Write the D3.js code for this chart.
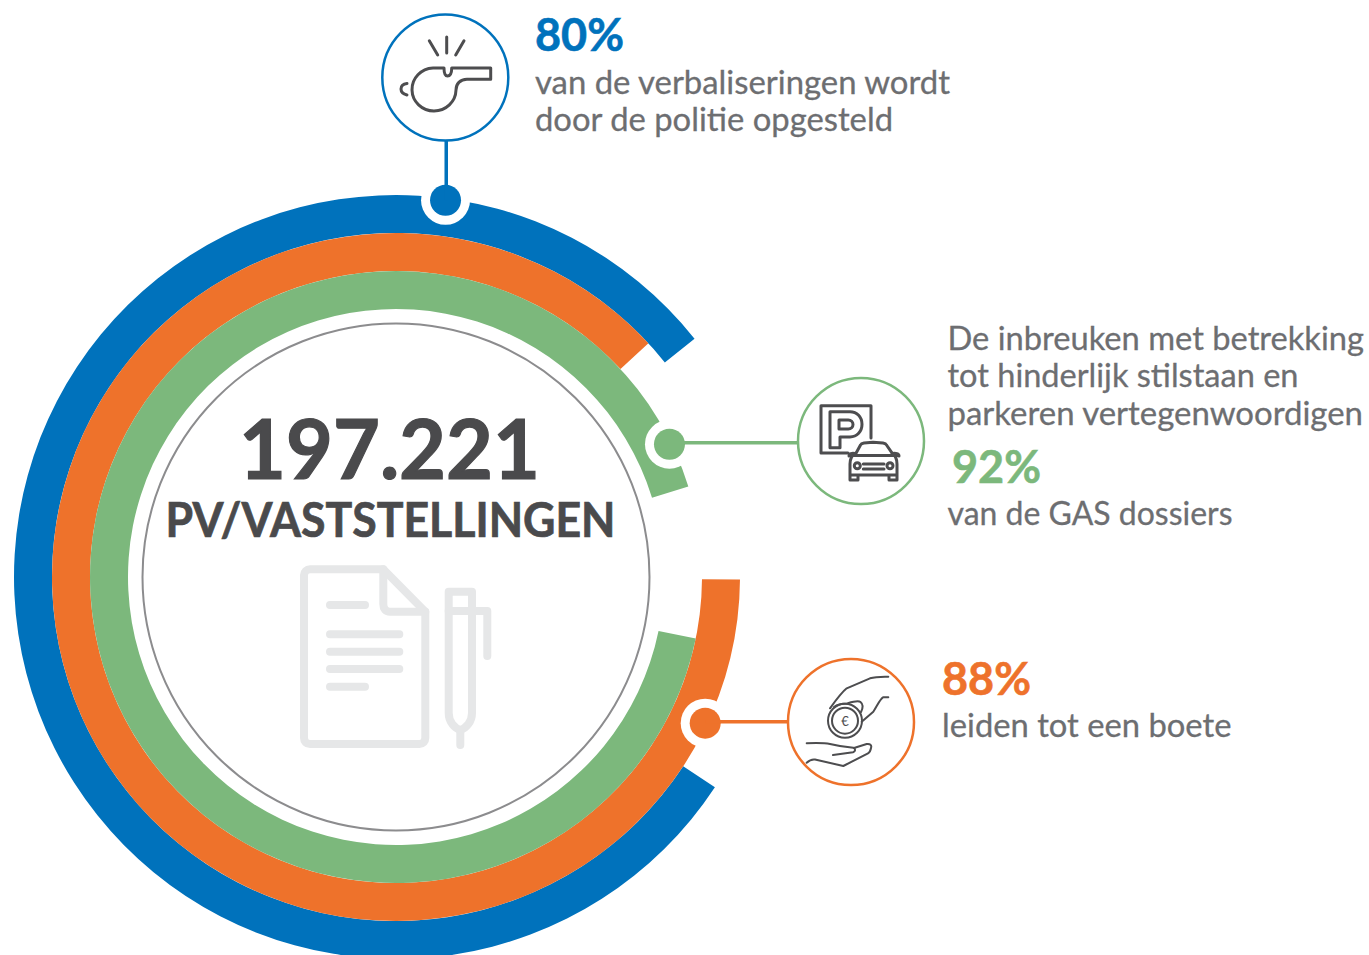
<!DOCTYPE html>
<html>
<head>
<meta charset="utf-8">
<style>
  html, body { margin: 0; background: #fff; overflow: hidden; }
  svg { display: block; font-family: Lato, "Open Sans", sans-serif; }
  .icon { fill: none; stroke: #4d4d4f; stroke-width: 3; stroke-linecap: round; stroke-linejoin: round; }
  .icon-thin { stroke-width: 2; }
  .doc { fill: none; stroke: #e6e7e8; stroke-width: 8; stroke-linecap: round; stroke-linejoin: round; }
</style>
</head>
<body>
<svg id="chart" width="1369" height="955"></svg>
<script src="https://d3js.org/d3.v7.min.js"></script>
<script>
// data
var ringNames = ["politie", "boete", "parkeren"];
var ringValues = [80, 88, 92];
var ringColors = ["#0072bc", "#ee722b", "#7cb87c"];
var totalLabel = "197.221";
var totalCaption = "PV/VASTSTELLINGEN";

// layout
var cx = 396, cy = 577;
var ringStart = { politie: 123.4, boete: 90.4, parkeren: 101.6 };   // degrees clockwise from 12 o'clock
var dotAngle = { politie: 7.49, boete: 115.3, parkeren: 64.1 };
var bubble = {
  politie: { x: 445.3, y: 77.5 },
  parkeren: { x: 861, y: 441 },
  boete: { x: 851, y: 722 }
};

var textColor = "#6d6e71", darkColor = "#4a4a4c";
var labels = [
  { t: "80%", x: 535, y: 51, w: 89, size: 45, bold: 0.6, fill: ringColors[0] },
  { t: "van de verbaliseringen wordt", x: 535, y: 94, w: 415, size: 33 },
  { t: "door de politie opgesteld", x: 535, y: 131, w: 358, size: 33 },
  { t: "De inbreuken met betrekking", x: 947.5, y: 350, w: 416.5, size: 33 },
  { t: "tot hinderlijk stilstaan en", x: 947.5, y: 387, w: 351, size: 33 },
  { t: "parkeren vertegenwoordigen", x: 947.5, y: 425, w: 415.5, size: 33 },
  { t: "92%", x: 952, y: 483, w: 89, size: 45, bold: 0.6, fill: ringColors[2] },
  { t: "van de GAS dossiers", x: 947.5, y: 525, w: 285, size: 33 },
  { t: "88%", x: 942, y: 695, w: 89, size: 45, bold: 0.6, fill: ringColors[1] },
  { t: "leiden tot een boete", x: 942, y: 737, w: 289.5, size: 33 },
  { t: totalLabel, x: 239, y: 479, w: 301, size: 82, bold: 1.2, fill: darkColor },
  { t: totalCaption, x: 165.5, y: 537, w: 450, size: 47, bold: 0.7, fill: darkColor }
];

var svg = d3.select("#chart");

var radius = d3.scaleBand().domain(ringNames).range([382, 268]);
var angle = d3.scaleLinear().domain([0, 100]).range([0, 2 * Math.PI]);
var color = d3.scaleOrdinal().domain(ringNames).range(ringColors);
var rad = function(deg) { return deg * Math.PI / 180; };

var rings = ringNames.map(function(name, i) {
  return { name: name, value: ringValues[i] };
});

var arc = d3.arc()
  .innerRadius(function(d) { return radius(d.name); })
  .outerRadius(function(d) { return radius(d.name) + radius.bandwidth(); })
  .startAngle(function(d) { return rad(ringStart[d.name]); })
  .endAngle(function(d) { return rad(ringStart[d.name]) + angle(d.value); });

var g = svg.append("g").attr("transform", "translate(" + cx + "," + cy + ")");

g.selectAll("path.ring")
  .data(rings)
  .enter().append("path")
    .attr("class", "ring")
    .attr("d", arc)
    .attr("fill", function(d) { return color(d.name); });

g.append("circle")
  .attr("r", 253.5)
  .attr("fill", "none")
  .attr("stroke", "#8c8c8e")
  .attr("stroke-width", 2);

// dots sit on the outer edge of their ring
function dotPos(d) {
  var r = radius(d.name) + radius.bandwidth() - 2;
  var a = rad(dotAngle[d.name]);
  return { x: cx + r * Math.sin(a), y: cy - r * Math.cos(a) };
}

// connector runs straight into the bubble, a touch off the dot centre
function connector(d) {
  var p = dotPos(d), b = bubble[d.name];
  if (d.name == "politie") return { x1: p.x + 0.7, y1: p.y, x2: p.x + 0.7, y2: b.y };
  return { x1: p.x, y1: p.y - 1.4, x2: b.x, y2: p.y - 1.4 };
}

var callout = svg.append("g").selectAll("g")
  .data(rings)
  .enter().append("g");

callout.append("circle")
  .attr("cx", function(d) { return dotPos(d).x; })
  .attr("cy", function(d) { return dotPos(d).y; })
  .attr("r", 24.5)
  .attr("fill", "#fff");

callout.append("circle")
  .attr("cx", function(d) { return dotPos(d).x; })
  .attr("cy", function(d) { return dotPos(d).y; })
  .attr("r", 15.5)
  .attr("fill", function(d) { return color(d.name); });

callout.append("line")
  .attr("x1", function(d) { return connector(d).x1; })
  .attr("y1", function(d) { return connector(d).y1; })
  .attr("x2", function(d) { return connector(d).x2; })
  .attr("y2", function(d) { return connector(d).y2; })
  .attr("stroke", function(d) { return color(d.name); })
  .attr("stroke-width", 3.5);

callout.append("circle")
  .attr("cx", function(d) { return bubble[d.name].x; })
  .attr("cy", function(d) { return bubble[d.name].y; })
  .attr("r", 63)
  .attr("fill", "#fff")
  .attr("stroke", function(d) { return color(d.name); })
  .attr("stroke-width", 2.5);

// whistle
var whistle = svg.append("g").attr("class", "icon");
whistle.append("path").attr("d", "M451.7 68H490.7V79.3H467C460 79.3 456 84 456 90A22 21.5 0 1 1 433 68H444C444 72 444.5 76 447.5 76C450.5 76 451.7 72 451.7 68Z");
whistle.append("path").attr("d", "M407 83.5C403 84 401 86 401 89C401 92 403 94 407 95");
whistle.append("path").attr("d", "M429.3 40.7L437.7 55M446.7 37V53M464 40.7L455.7 55");

// parking sign and car
var parking = svg.append("g").attr("class", "icon");
parking.append("path").attr("d", "M871 438V405.7H821V453H848");
parking.append("path").attr("d", "M830 411.7H850C857 411.7 862 417 862 424.3C862 431.5 857 437 850 437H840V447.7H830Z");
parking.append("path").attr("d", "M839 420H848.3C851 420 853 422 853 424.5C853 427 851 429 848.3 429H839Z");
parking.append("path").attr("d", "M856 453.3L860.5 445C861 443.8 862 443.3 864 443L873 442.3L883 443C885 443.3 886 443.8 886.5 445L892.3 453.3");
parking.append("path").attr("d", "M850 455.5H898.3M855 453.5C851 456 850 460 850 464V475H897V464C897 460 896 456 892.3 453.5M850 475V480H858V475M889 475V480H897V475");
parking.append("path").attr("d", "M849 456C849 453.5 852 453 855 453.5M899 456C899 453.5 896 453 892.3 453.5");
parking.append("circle").attr("cx", 857.3).attr("cy", 465.7).attr("r", 3);
parking.append("circle").attr("cx", 890).attr("cy", 465.7).attr("r", 3);
parking.append("path").attr("d", "M863.3 464H884M863.3 469H884");

// coin and hands
var hands = svg.append("g").attr("class", "icon icon-thin");
hands.append("path").attr("d", "M888.3 676.7C880 676.5 874 677 870 678.3L846.7 688.3C842 692 836 700 830 708.3");
hands.append("path").attr("d", "M888.3 697.3H883C880 699 877 706 873.3 711.7L861.7 721.7");
hands.append("path").attr("d", "M834 707C838 704 842 703.5 847 703.5C852 702 858 700 860.5 702C863 704 863 708 861 712");
hands.append("circle").attr("cx", 845).attr("cy", 720.7).attr("r", 17);
hands.append("circle").attr("cx", 845).attr("cy", 720.7).attr("r", 13);
hands.append("path").attr("d", "M806.7 743.3C815 743 825 743 830 744C838 746 845 747 853.3 747.7C856 749 855.5 751.5 853 752.3L833 755");
hands.append("path").attr("d", "M854 748L866.7 744C870 743.5 872 745 871 748C870.5 751 869.5 752.5 868 753.3L843.3 766L815 759.5C811 759 809 760.5 806.7 762.7");
svg.append("text")
  .attr("x", 845).attr("y", 725.5)
  .attr("text-anchor", "middle")
  .attr("font-size", 13)
  .attr("fill", "#4d4d4f")
  .text("€");

// faded document and pen behind the total
var doc = svg.append("g").attr("class", "doc");
doc.append("path").attr("d", "M383.3 569.3H310C306.5 569.3 304 572 304 575V738C304 741.5 306.5 744 310 744H419.5C423 744 425.3 741.5 425.3 738V611.7Z");
doc.append("path").attr("d", "M383.3 569.3V604C383.3 609 385.5 611.7 390 611.7H425.3");
doc.append("path").attr("d", "M330 605H365M330 634.3H399.3M330 651.7H399.3M330 669H399.3M330 686.7H365");
doc.append("path").attr("d", "M448.7 591.7H472V713C472 722 466 728 460.3 730C454.5 728 448.7 722 448.7 713Z");
doc.append("path").attr("d", "M448.7 611H487.3V656M460.3 730V745");

// all the text
svg.append("g").selectAll("text")
  .data(labels)
  .enter().append("text")
    .attr("x", function(d) { return d.x; })
    .attr("y", function(d) { return d.y; })
    .attr("font-size", function(d) { return d.size; })
    .attr("font-weight", function(d) { return d.bold ? 700 : 400; })
    .attr("fill", function(d) { return d.fill || textColor; })
    .attr("stroke", function(d) { return d.bold ? d.fill : textColor; })
    .attr("stroke-width", function(d) { return d.bold || 0.3; })
    .attr("textLength", function(d) { return d.w; })
    .attr("lengthAdjust", "spacingAndGlyphs")
    .text(function(d) { return d.t; });
</script>
</body>
</html>
